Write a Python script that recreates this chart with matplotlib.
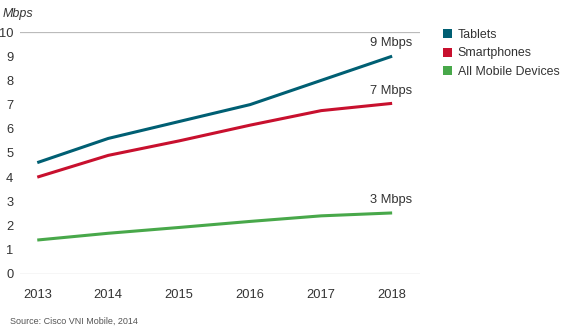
import matplotlib
matplotlib.use("Agg")
import matplotlib.pyplot as plt
from matplotlib.patches import Patch

# data
years = [2013, 2014, 2015, 2016, 2017, 2018]
tablets = [4.6, 5.6, 6.3, 7.0, 8.0, 9.0]
smartphones = [4.0, 4.9, 5.5, 6.15, 6.75, 7.05]
all_devices = [1.4, 1.68, 1.92, 2.17, 2.4, 2.52]
series_names = ['Tablets', 'Smartphones', 'All Mobile Devices']
end_labels = ['9 Mbps', '7 Mbps', '3 Mbps']
yticks = list(range(0, 11))

colors = ['#005f73', '#c8102e', '#48a84a']
txt = '#333333'

plt.rcParams['font.family'] = ['Liberation Sans', 'DejaVu Sans']

fig = plt.figure(figsize=(5.62, 3.30), dpi=100)
ax = fig.add_axes([0.036, 0.170, 0.711, 0.733])

for vals, c in zip([tablets, smartphones, all_devices], colors):
    ax.plot(years, vals, color=c, lw=2.2, solid_capstyle='butt', clip_on=False)

# end labels
ax.text(years[-1] + 0.28, tablets[-1] + 0.3, end_labels[0], ha='right', va='bottom', fontsize=9.3, color=txt)
ax.text(years[-1] + 0.28, smartphones[-1] + 0.27, end_labels[1], ha='right', va='bottom', fontsize=9.3, color=txt)
ax.text(years[-1] + 0.28, all_devices[-1] + 0.27, end_labels[2], ha='right', va='bottom', fontsize=9.3, color=txt)

ax.axhline(0, color='#bbbbbb', lw=0.9)
ax.axhline(10, color='#bbbbbb', lw=0.9)

ax.set_xlim(2012.76, 2018.39)
ax.set_ylim(0, 10)
ax.set_xticks(years)
ax.set_yticks(yticks)
ax.tick_params(length=0, labelsize=9.3, colors=txt)
ax.tick_params(axis='x', pad=11)
ax.tick_params(axis='y', pad=5)
for s in ax.spines.values():
    s.set_visible(False)

fig.text(0.004, 0.975, 'Mbps', style='italic', fontsize=9, color=txt, va='top')
fig.text(0.018, 0.018, 'Source: Cisco VNI Mobile, 2014', fontsize=6.5, color='#555555')

handles = [Patch(facecolor=c, edgecolor='none') for c in colors]
fig.legend(handles, series_names, loc='upper left', bbox_to_anchor=(0.768, 0.945),
           frameon=False, fontsize=8.9, handlelength=0.75, handleheight=0.75,
           handletextpad=0.45, labelspacing=0.5, labelcolor=txt)

fig.savefig('out.png', dpi=100)
